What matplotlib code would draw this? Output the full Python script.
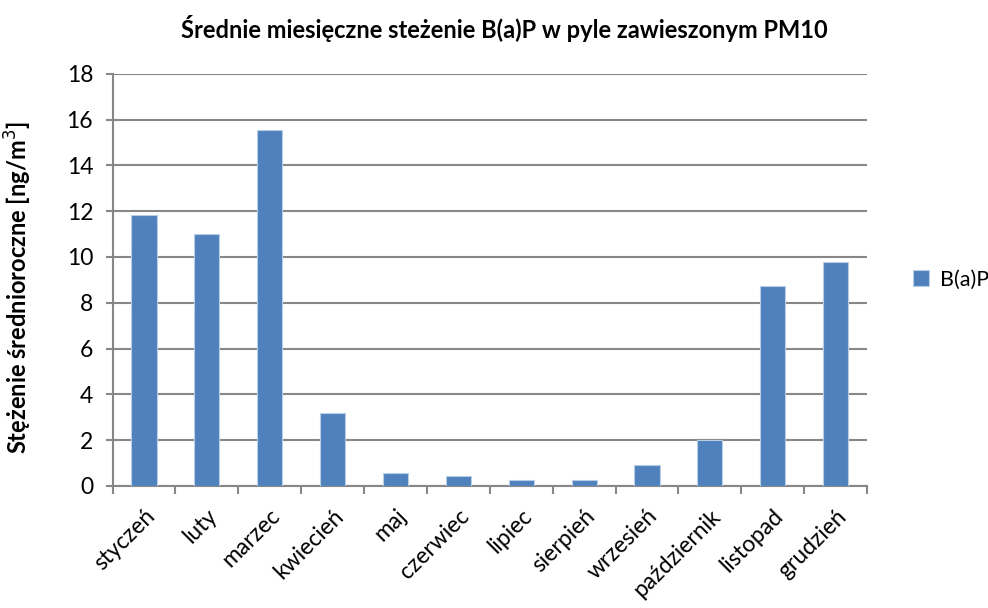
import matplotlib
matplotlib.use("Agg")
import matplotlib.pyplot as plt
import numpy as np

months = ["styczeń", "luty", "marzec", "kwiecień", "maj", "czerwiec", "lipiec",
          "sierpień", "wrzesień", "październik", "listopad", "grudzień"]
bap = [11.82, 11.02, 15.53, 3.19, 0.58, 0.44, 0.25, 0.27, 0.90, 2.01, 8.75, 9.80]
y_ticks = [0, 2, 4, 6, 8, 10, 12, 14, 16, 18]

plt.rcParams['font.family'] = ['Lato', 'DejaVu Sans']

fig = plt.figure(figsize=(9.88, 6.08), dpi=100)
ax = fig.add_axes([0.114, 0.2007, 0.7635, 0.678])

grid_c = "#878787"
bar_c = "#4F81BD"

x = np.arange(len(months))
ax.bar(x, bap, width=0.4, color=bar_c, edgecolor="#B9CDE5", linewidth=0.8,
       zorder=3, label="B(a)P")

ax.set_xlim(-0.5, len(months) - 0.5)
ax.set_ylim(0, 18)
ax.set_yticks(y_ticks)
ax.set_yticklabels([str(v) for v in y_ticks], fontsize=16.5)
ax.yaxis.grid(True, color=grid_c, linewidth=1.5, zorder=0)

# category dividers as x ticks
ax.set_xticks(np.arange(-0.5, len(months), 1.0), minor=False)
ax.set_xticklabels([])
ax.set_xticks(x, minor=True)
ax.set_xticklabels(months, minor=True, rotation=45, ha="right",
                   rotation_mode="anchor", fontsize=16.5)
ax.tick_params(axis="x", which="major", length=6, width=1.5, color=grid_c,
               direction="out")
ax.tick_params(axis="x", which="minor", length=0, pad=14)
ax.tick_params(axis="y", length=5, width=1.5, color=grid_c, direction="out",
               pad=9)

for side in ("top", "right"):
    ax.spines[side].set_visible(False)
for side in ("left", "bottom"):
    ax.spines[side].set_color(grid_c)
    ax.spines[side].set_linewidth(1.5)

ax.set_ylabel("Stężenie średnioroczne [ng/m$^3$]", fontsize=17,
              fontweight="bold")
ax.yaxis.set_label_coords(-0.104, 0.48)
fig.suptitle("Średnie miesięczne steżenie B(a)P w pyle zawieszonym PM10",
             fontsize=17, fontweight="bold", x=0.51, y=0.975)

leg = ax.legend(loc="center left", bbox_to_anchor=(1.035, 0.5), frameon=False,
                fontsize=15.5, handlelength=0.75, handleheight=0.75,
                handletextpad=0.5)

fig.savefig("out.png", dpi=100)
